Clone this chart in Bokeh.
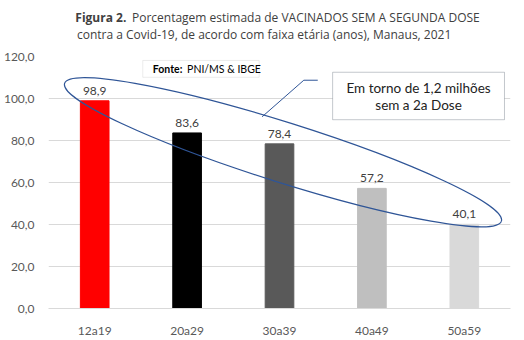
from bokeh.plotting import figure
from bokeh.models import (Range1d, FixedTicker, Label, BoxAnnotation, ColumnDataSource)
from bokeh.layouts import column
from bokeh.core.properties import value
from bokeh.embed import file_html
from bokeh.resources import INLINE

# Data
categories = ["12a19", "20a29", "30a39", "40a49", "50a59"]
percent = [98.9, 83.6, 78.4, 57.2, 40.1]
bar_colors = ["#FF0000", "#000000", "#595959", "#BFBFBF", "#D9D9D9"]
y_ticks = [0, 20, 40, 60, 80, 100, 120]
y_tick_labels = ["0,0", "20,0", "40,0", "60,0", "80,0", "100,0", "120,0"]
title_bold = "Figura 2."
title_line1 = "Porcentagem estimada de VACINADOS SEM A SEGUNDA DOSE"
title_line2 = "contra a Covid-19, de acordo com faixa etária (anos), Manaus, 2021"

FONT = "Lato"
TFONT = "Open Sans"
TITLE_H = 45
BL, BR = 45, 14
xs = [i + 0.5 for i in range(len(categories))]
labels = [f"{v:.1f}".replace(".", ",") for v in percent]

# ---- title strip; its frame spans the same pixels as the chart's frame,
# and its x range is expressed in canvas pixels
t = figure(width=524, height=TITLE_H, output_backend="svg", toolbar_location=None,
           x_range=Range1d(BL, 524 - BR), y_range=Range1d(0, TITLE_H),
           x_axis_location=None, y_axis_location=None,
           min_border_left=BL, min_border_right=BR, min_border_top=0, min_border_bottom=0)
t.grid.visible = False
t.outline_line_color = None
t.background_fill_color = "white"
t.border_fill_color = "white"
t.add_layout(Label(x=72, y=TITLE_H - 17, text=title_bold, text_align="left", text_baseline="middle",
                   text_font=TFONT, text_font_style="bold", text_font_size="12px", text_color="#404040"))
t.add_layout(Label(x=129, y=TITLE_H - 17, text=title_line1, text_align="left", text_baseline="middle",
                   text_font=TFONT, text_font_size="12px", text_color="#404040"))
t.add_layout(Label(x=262, y=TITLE_H - 34, text=title_line2, text_align="center", text_baseline="middle",
                   text_font=TFONT, text_font_size="12px", text_color="#404040"))

# ---- main chart
src = ColumnDataSource(dict(x=xs, top=percent, color=bar_colors, label=labels))

p = figure(width=524, height=340 - TITLE_H, output_backend="svg", toolbar_location=None,
           x_range=Range1d(0, 5), y_range=Range1d(0, 120),
           min_border_left=BL, min_border_right=BR, min_border_top=56 - TITLE_H, min_border_bottom=29)
p.outline_line_color = None
p.background_fill_color = "white"
p.border_fill_color = "white"

p.vbar(x="x", top="top", width=0.31, color="color", source=src)

p.text(x="x", y="top", text="label", source=src, text_align="center", text_baseline="bottom",
       y_offset=-6, text_font=value(FONT), text_font_size="12px", text_color="#404040")

p.xaxis.ticker = FixedTicker(ticks=xs)
p.xaxis.major_label_overrides = {x: c for x, c in zip(xs, categories)}
p.xaxis.major_tick_line_color = None
p.xaxis.minor_tick_line_color = None
p.xaxis.axis_line_color = "#D9D9D9"
p.xaxis.major_label_text_font = FONT
p.xaxis.major_label_text_font_size = "12px"
p.xaxis.major_label_text_color = "#595959"
p.xaxis.major_label_standoff = 8

p.yaxis.ticker = FixedTicker(ticks=y_ticks)
p.yaxis.major_label_overrides = {tk: l for tk, l in zip(y_ticks, y_tick_labels)}
p.yaxis.major_tick_line_color = None
p.yaxis.minor_tick_line_color = None
p.yaxis.axis_line_color = None
p.yaxis.major_label_text_font = FONT
p.yaxis.major_label_text_font_size = "12px"
p.yaxis.major_label_text_color = "#595959"
p.yaxis.major_label_standoff = 8

p.xgrid.grid_line_color = None
p.ygrid.grid_line_color = "#D9D9D9"
p.ygrid.ticker = FixedTicker(ticks=y_ticks)

# ellipse highlight
p.ellipse(x=[2.538], y=[74.4], width=[458], height=[60], angle=[-17.5], angle_units="deg",
          width_units="screen", height_units="screen", fill_color=None,
          line_color="#2F5597", line_width=1.2)

# pointer line
p.line(x=[2.914, 2.763, 2.312], y=[108.7, 108.7, 91.3], line_color="#2F5597", line_width=1)

# callout box
p.add_layout(BoxAnnotation(left=3.075, right=4.935, bottom=89.9, top=112.5,
                           fill_color="white", fill_alpha=1, line_color="#3C4A5A", line_width=1))
p.add_layout(Label(x=4.005, y=104.9, text="Em torno de 1,2 milhões", text_align="center",
                   text_baseline="middle", text_font=FONT, text_font_size="13.5px", text_color="#222222"))
p.add_layout(Label(x=4.005, y=97.0, text="sem a 2a Dose", text_align="center",
                   text_baseline="middle", text_font=FONT, text_font_size="13.5px", text_color="#222222"))

# Fonte box
p.add_layout(BoxAnnotation(left=1.02, right=2.28, bottom=110.1, top=118.1,
                           fill_color="white", fill_alpha=1, line_color="#BFBFBF", line_width=1))
p.add_layout(Label(x=1.129, y=114.1, text="Fonte:", text_align="left", text_baseline="middle",
                   text_font=FONT, text_font_style="bold", text_font_size="10.5px", text_color="#000000"))
p.add_layout(Label(x=1.50, y=114.1, text="PNI/MS & IBGE", text_align="left", text_baseline="middle",
                   text_font=FONT, text_font_size="10.5px", text_color="#000000"))

layout = column(t, p, spacing=0)
open("out.html", "w").write(file_html(layout, INLINE))
